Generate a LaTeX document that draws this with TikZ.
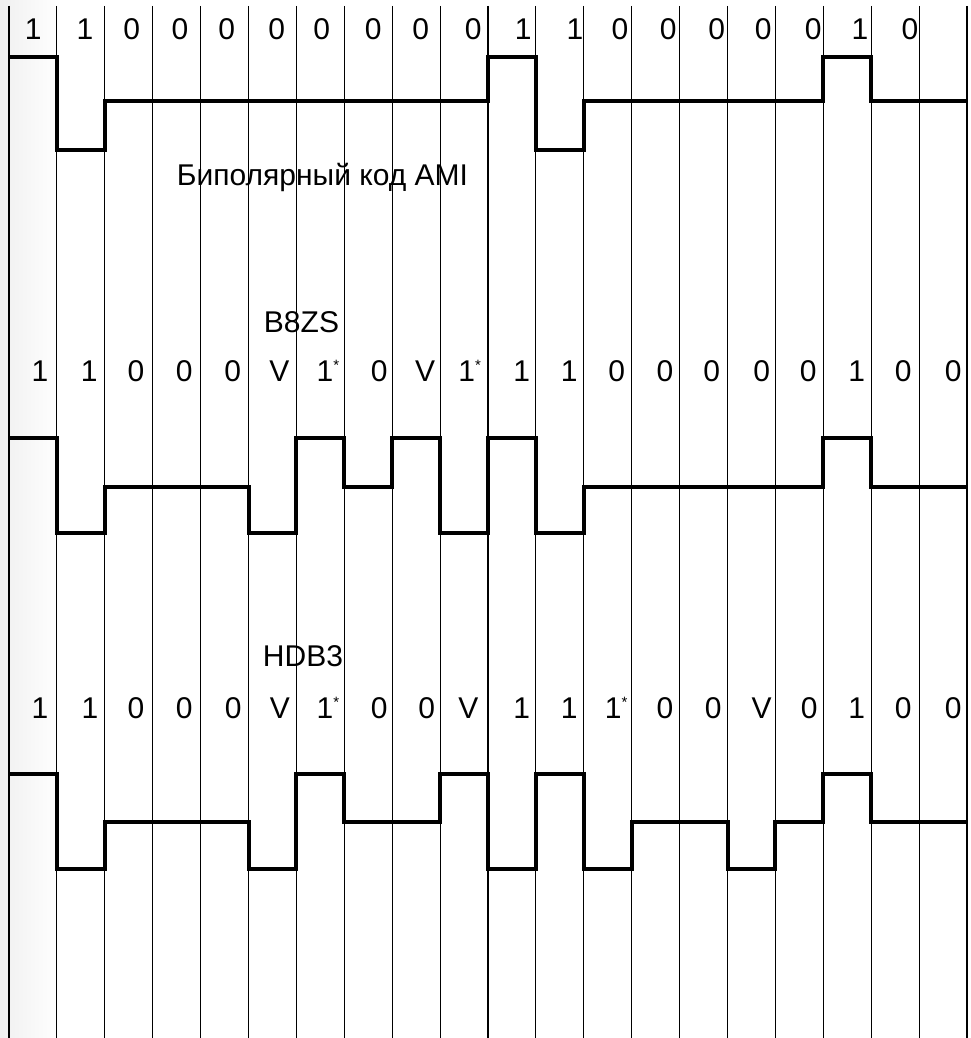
\documentclass[tikz,border=0pt]{standalone}
\usepackage{fontspec}
\setmainfont{Liberation Sans}
\newcommand\st{\rlap{\raisebox{10.8pt}{\fontsize{15}{15}\selectfont *}}}
\begin{document}
\begin{tikzpicture}[x=1pt,y=-1pt,
  declare function={X(\i)=9+47.9*\i;},
  grid/.style={line width=1.1pt},
  wave/.style={line width=4pt, line join=miter},
  bit/.style={anchor=base, inner sep=0pt, font=\fontsize{30}{30}\selectfont},
  title/.style={anchor=base, inner sep=0pt, font=\fontsize{30}{30}\selectfont}]
\useasboundingbox (0,0) rectangle (971,1038);
\shade[left color=black!6, right color=white] (0,0) rectangle (60,1038);
% grid lines
\foreach \i in {0,...,20} \draw[grid] ({X(\i)},6) -- ({X(\i)},1038);
% AMI
\draw[wave] ({X(0)},57) \foreach \v [count=\i] in {57,150,101.5,101.5,101.5,101.5,101.5,101.5,101.5,101.5,57,150,101.5,101.5,101.5,101.5,101.5,57,101.5,101.5} { -- ({X(\i-1)},\v) -- ({X(\i)},\v) };
% B8ZS
\draw[wave] ({X(0)},438) \foreach \v [count=\i] in {438,533,486.5,486.5,486.5,533,438,486.5,438,533,438,533,486.5,486.5,486.5,486.5,486.5,438,486.5,486.5} { -- ({X(\i-1)},\v) -- ({X(\i)},\v) };
% HDB3
\draw[wave] ({X(0)},774) \foreach \v [count=\i] in {774,869,822,822,822,869,774,822,822,774,869,774,869,822,822,869,822,774,822,822} { -- ({X(\i-1)},\v) -- ({X(\i)},\v) };
% bit labels
\foreach \x/\t [count=\i] in {33.3/1,85/1,131.7/0,180/0,226.7/0,276.7/0,321.7/0,373.3/0,420.7/0,473.3/0,523.3/1,575/1,620/0,668.3/0,716.7/0,763.3/0,813.3/0,860/1,910/0}
  \node[bit] (t\i) at (\x,40) {\t};
\foreach \x/\t [count=\i] in {40/1,89.3/1,136/0,184.3/0,232.7/0,279.3/V,325/1\st,379.3/0,425/V,466.7/1\st,521.7/1,569.3/1,616.7/0,665/0,711.7/0,761.7/0,808.3/0,856.7/1,903.3/0,953.3/0}
  \node[bit] (b\i) at (\x,381.7) {\t};
\foreach \x/\t [count=\i] in {40/1,90/1,136/0,184.3/0,233.3/0,280/V,325/1\st,379.3/0,426.7/0,468.3/V,521.7/1,569.3/1,613.3/1\st,665/0,713.3/0,761.7/V,809.3/0,856.7/1,903.3/0,953.3/0}
  \node[bit] (h\i) at (\x,718.3) {\t};
% titles
\node[title] (ami) at (322.5,185) {Биполярный код AMI};
\node[title] (b8zs) at (301.5,332.7) {B8ZS};
\node[title] (hdb3) at (303,666.7) {HDB3};
\end{tikzpicture}
\end{document}
